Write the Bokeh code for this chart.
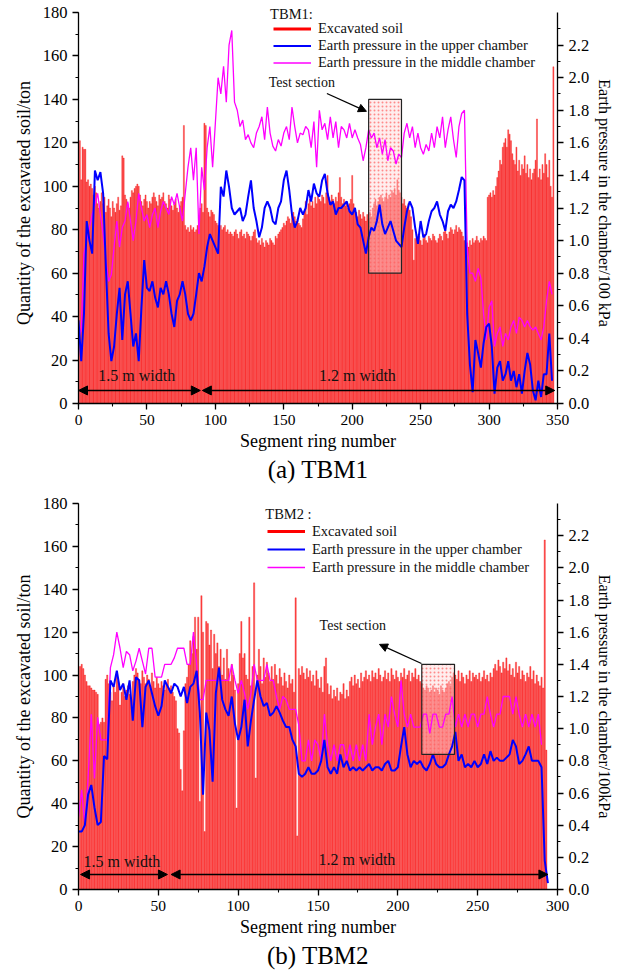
from bokeh.plotting import figure
from bokeh.models import (Range1d, LinearAxis, SingleIntervalTicker, Legend, LegendItem,
                          Arrow, NormalHead, Label, Title, PrintfTickFormatter)
from bokeh.layouts import column
from bokeh.embed import file_html
from bokeh.resources import INLINE

FONT = "Liberation Serif"

# ---------------- TBM1 data ----------------
# excavated soil (ton) per segment ring, rings 1..347
soil_tbm1 = [
    121, 103, 118, 117, 117, 102, 103, 100, 101, 99,
    96, 100, 97, 92, 90, 93, 97, 92, 95, 88,
    91, 94, 90, 86, 93, 90, 88, 92, 95, 89,
    91, 114, 113, 96, 94, 92, 90, 95, 98, 97,
    99, 100, 101, 100, 96, 93, 91, 94, 96, 93,
    90, 93, 92, 95, 97, 95, 93, 91, 96, 94,
    95, 97, 93, 92, 90, 96, 94, 91, 89, 92,
    94, 90, 88, 91, 93, 95, 128, 82, 80, 81,
    79, 82, 80, 81, 79, 80, 82, 86, 90, 92,
    88, 129, 128, 90, 88, 86, 89, 88, 87, 84,
    83, 82, 81, 82, 80, 81, 82, 79, 80, 78,
    79, 78, 77, 79, 80, 78, 76, 79, 80, 77,
    78, 76, 79, 78, 77, 75, 77, 79, 80, 76,
    74, 75, 73, 76, 74, 72, 75, 74, 73, 76,
    75, 74, 73, 77, 76, 78, 79, 80, 81, 83,
    82, 84, 86, 85, 83, 87, 88, 86, 84, 85,
    83, 82, 81, 85, 88, 93, 87, 92, 94, 91,
    93, 90, 95, 92, 96, 94, 93, 96, 95, 92,
    97, 105, 95, 93, 96, 94, 92, 95, 93, 97,
    104, 95, 92, 94, 91, 93, 90, 92, 94, 105,
    92, 90, 88, 86, 89, 87, 85, 88, 86, 84,
    87, 85, 88, 86, 90, 92, 94, 91, 93, 95,
    96, 94, 93, 95, 97, 94, 96, 95, 98, 97,
    99, 96, 103, 98, 97, 95, 92, 94, 91, 90,
    92, 89, 86, 80, 66, 76, 78, 74, 77, 75,
    73, 76, 78, 75, 74, 77, 76, 75, 78, 77,
    75, 74, 76, 78, 77, 75, 79, 80, 78, 76,
    79, 81, 80, 78, 80, 82, 79, 81, 80, 79,
    77, 75, 73, 74, 72, 75, 73, 76, 74, 75,
    77, 75, 74, 76, 75, 77, 76, 75, 95, 96,
    97, 95, 98, 96, 100, 104, 107, 112, 110, 118,
    120, 122, 118, 126, 124, 121, 115, 112, 110, 118,
    107, 112, 105, 110, 108, 114, 106, 110, 104, 108,
    103, 106, 108, 112, 131, 104, 108, 103, 110, 106,
    115, 110, 104, 112, 100, 95, 155,
]
# earth pressure (100 kPa), sampled every 2 rings from ring 0
upper_tbm1 = [
    0.51, 0.26, 0.55, 1.12, 1.00, 0.92, 1.43, 1.37, 1.42, 1.29,
    0.84, 0.43, 0.26, 0.35, 0.55, 0.71, 0.39, 0.67, 0.75, 0.55,
    0.35, 0.43, 0.26, 0.59, 0.88, 0.71, 0.69, 0.75, 0.65, 0.59,
    0.71, 0.67, 0.75, 0.67, 0.55, 0.47, 0.63, 0.67, 0.75, 0.67,
    0.55, 0.51, 0.55, 0.67, 0.80, 0.75, 0.84, 0.96, 1.04, 1.00,
    0.96, 0.92, 1.33, 1.27, 1.43, 1.33, 1.20, 1.16, 1.18, 1.20,
    1.12, 1.16, 1.27, 1.37, 1.20, 1.12, 1.02, 1.08, 1.20, 1.24,
    1.20, 1.12, 1.10, 1.20, 1.24, 1.37, 1.43, 1.31, 1.16, 1.08,
    1.12, 1.20, 1.16, 1.20, 1.31, 1.24, 1.35, 1.29, 1.27, 1.37,
    1.41, 1.29, 1.22, 1.24, 1.16, 1.20, 1.20, 1.22, 1.24, 1.18,
    1.16, 1.20, 1.10, 1.08, 1.00, 0.92, 1.02, 1.08, 1.06, 1.12,
    1.22, 1.10, 1.04, 1.08, 1.12, 1.06, 1.00, 0.98, 0.96, 1.08,
    1.18, 1.24, 1.20, 1.08, 0.98, 1.12, 1.02, 1.04, 1.12, 1.18,
    1.20, 1.24, 1.16, 1.12, 1.06, 1.18, 1.22, 1.20, 1.24, 1.31,
    1.39, 1.37, 0.55, 0.24, 0.07, 0.39, 0.31, 0.22, 0.37, 0.47,
    0.49, 0.35, 0.06, 0.22, 0.26, 0.14, 0.18, 0.26, 0.14, 0.20,
    0.10, 0.18, 0.06, 0.20, 0.31, 0.24, 0.08, 0.02, 0.14, 0.04,
    0.18, 0.18, 0.43, 0.14,
]
middle_tbm1 = [
    0.40, 0.45, 0.92, 1.00, 1.08, 1.16, 1.22, 1.29, 1.16, 1.04,
    0.88, 0.75, 0.79, 0.96, 1.12, 0.96, 1.08, 1.12, 1.24, 1.12,
    1.00, 1.12, 1.29, 1.20, 1.12, 1.16, 1.08, 1.16, 1.20, 1.08,
    1.18, 1.24, 1.20, 1.16, 1.27, 1.22, 1.29, 1.20, 1.12, 1.29,
    1.45, 1.57, 1.37, 1.57, 1.04, 1.45, 1.31, 1.57, 1.70, 1.45,
    1.72, 2.00, 1.90, 2.07, 1.85, 2.20, 2.29, 1.85, 1.80, 1.70,
    1.74, 1.62, 1.65, 1.60, 1.57, 1.66, 1.70, 1.76, 1.62, 1.82,
    1.66, 1.58, 1.55, 1.62, 1.58, 1.66, 1.70, 1.62, 1.82, 1.70,
    1.60, 1.66, 1.65, 1.70, 1.68, 1.57, 1.73, 1.45, 1.80, 1.68,
    1.72, 1.62, 1.76, 1.63, 1.73, 1.57, 1.70, 1.68, 1.63, 1.72,
    1.63, 1.68, 1.63, 1.59, 1.49, 1.57, 1.68, 1.63, 1.66, 1.57,
    1.63, 1.53, 1.62, 1.49, 1.57, 1.55, 1.47, 1.53, 1.51, 1.66,
    1.72, 1.63, 1.70, 1.57, 1.66, 1.57, 1.53, 1.59, 1.55, 1.66,
    1.57, 1.70, 1.63, 1.76, 1.57, 1.68, 1.76, 1.62, 1.51, 1.70,
    1.78, 1.80, 0.96, 0.80, 0.80, 0.75, 0.83, 0.77, 0.55, 0.39,
    0.59, 0.63, 0.35, 0.43, 0.47, 0.35, 0.43, 0.39, 0.47, 0.51,
    0.43, 0.53, 0.51, 0.47, 0.51, 0.47, 0.45, 0.47, 0.43, 0.39,
    0.47, 0.63, 0.75, 0.67,
]

# ---------------- TBM2 data ----------------
soil_tbm2 = [
    104, 105, 103, 100, 97, 95, 95, 94, 93, 93,
    92, 91, 77, 78, 80, 78, 98, 100, 96, 92,
    88, 95, 92, 99, 97, 86, 92, 96, 90, 93,
    95, 91, 89, 97, 100, 103, 101, 98, 96, 102,
    99, 96, 100, 98, 95, 101, 97, 94, 99, 96,
    94, 97, 95, 93, 96, 98, 94, 95, 92, 90,
    88, 75, 73, 56, 46, 74, 96, 99, 105, 116,
    110, 118, 127, 112, 127, 41, 137, 120, 27, 125,
    124, 114, 121, 103, 119, 110, 115, 104, 112, 100,
    108, 98, 112, 103, 97, 105, 100, 93, 38, 96,
    110, 125, 108, 110, 100, 98, 127, 95, 104, 143,
    52, 100, 112, 104, 96, 108, 99, 106, 101, 97,
    104, 98, 105, 100, 96, 103, 99, 95, 101, 97,
    94, 100, 96, 98, 92, 136, 25, 103, 100, 104,
    101, 98, 103, 99, 102, 97, 100, 95, 102, 98,
    94, 99, 92, 104, 108, 96, 91, 95, 89, 93,
    90, 94, 88, 92, 91, 96, 89, 93, 90, 97,
    99, 95, 100, 96, 98, 94, 101, 97, 99, 102,
    98, 100, 97, 102, 99, 101, 98, 103, 100, 97,
    99, 102, 98, 101, 97, 103, 100, 98, 102, 99,
    97, 101, 99, 103, 98, 100, 102, 97, 101, 99,
    103, 98, 100, 97, 96, 94, 93, 95, 94, 92,
    93, 95, 92, 94, 93, 91, 95, 93, 92, 94,
    96, 97, 95, 99, 101, 100, 98, 102, 97, 101,
    99, 96, 100, 98, 102, 97, 101, 99, 100, 98,
    101, 97, 99, 102, 98, 100, 97, 101, 99, 103,
    105, 102, 107, 104, 101, 106, 103, 108, 102, 105,
    100, 103, 99, 106, 101, 104, 98, 102, 100, 97,
    101, 99, 104, 98, 102, 96, 100, 97, 95, 99,
    94, 163, 65,
]
upper_tbm2 = [
    0.36, 0.36, 0.40, 0.59, 0.65, 0.51, 0.40, 0.42, 0.83, 0.81,
    1.30, 1.26, 1.36, 1.24, 1.28, 1.18, 1.30, 1.05, 1.32, 1.30,
    1.01, 1.26, 1.30, 1.22, 1.14, 1.08, 1.14, 1.30, 1.26, 1.22,
    1.28, 1.26, 1.20, 1.26, 1.16, 1.26, 1.28, 1.36, 1.10, 0.59,
    1.10, 0.99, 0.67, 1.22, 1.38, 1.18, 1.12, 1.08, 1.20, 1.03,
    0.93, 1.01, 1.18, 0.89, 1.05, 1.18, 1.30, 1.20, 1.14, 1.16,
    1.08, 1.10, 1.14, 1.10, 1.05, 1.01, 1.01, 0.93, 0.89, 0.72,
    0.70, 0.72, 0.76, 0.72, 0.72, 0.74, 0.80, 0.93, 0.76, 0.72,
    0.76, 0.72, 0.84, 0.76, 0.80, 0.74, 0.76, 0.74, 0.76, 0.74,
    0.76, 0.78, 0.74, 0.76, 0.76, 0.74, 0.78, 0.80, 0.74, 0.74,
    0.76, 0.89, 1.01, 0.84, 0.76, 0.80, 0.78, 0.80, 0.76, 0.74,
    0.78, 0.84, 0.78, 0.76, 0.76, 0.78, 0.84, 0.89, 0.98, 0.80,
    0.84, 0.76, 0.78, 0.76, 0.80, 0.76, 0.78, 0.84, 0.78, 0.86,
    0.80, 0.82, 0.80, 0.80, 0.82, 0.84, 0.93, 0.89, 0.78, 0.80,
    0.84, 0.89, 0.80, 0.80, 0.80, 0.76, 0.18, 0.04,
]
middle_tbm2 = [
    0.45, 0.62, 0.40, 0.69, 1.09, 0.69, 1.07, 0.93, 0.93, 0.93,
    1.38, 1.46, 1.60, 1.50, 1.38, 1.48, 1.46, 1.36, 1.42, 1.50,
    1.42, 1.34, 1.50, 1.50, 1.32, 1.32, 1.32, 1.40, 1.40, 1.40,
    1.44, 1.50, 1.50, 1.50, 1.40, 1.40, 1.60, 1.40, 1.18, 1.18,
    1.30, 1.30, 1.30, 1.30, 1.30, 1.30, 1.30, 1.30, 1.40, 1.30,
    1.22, 1.30, 1.22, 1.12, 1.22, 1.40, 1.30, 1.30, 1.30, 1.40,
    1.30, 1.30, 1.20, 1.12, 1.20, 1.18, 1.12, 1.12, 1.12, 1.02,
    0.80, 0.80, 0.93, 0.80, 0.93, 0.90, 0.80, 1.09, 0.90, 0.80,
    0.90, 0.80, 0.90, 0.90, 0.80, 0.90, 0.80, 0.90, 0.80, 0.90,
    0.80, 1.09, 0.90, 1.01, 1.09, 0.90, 1.09, 1.01, 1.20, 1.09,
    1.01, 1.30, 1.09, 1.01, 1.09, 1.01, 1.01, 1.01, 1.09, 1.09,
    0.97, 1.09, 1.09, 1.01, 1.01, 1.09, 1.09, 1.20, 1.01, 1.09,
    1.01, 1.09, 1.01, 1.09, 1.09, 1.01, 1.09, 1.09, 1.20, 1.09,
    1.01, 1.09, 1.09, 1.20, 1.20, 1.20, 1.09, 1.20, 1.09, 1.01,
    1.09, 1.01, 1.09, 1.01, 1.09, 0.90,
]

LINE_STEP = 2  # pressure readings are sampled every 2 rings
SOIL_MAX, P_MAX = 180, 2.4  # axis extents (ton, 100 kPa)

# annotation anchors (data units) and layout constants
TBM1_NOTES = dict(
    xmax=350, legend_title="TBM1:", ylabel_r="Earth pressure in the chamber/100 kPa",
    caption="(a) TBM1", rect=(212, 236, 60, 140),
    test_text=(139, 148), test_arrow=(181.5, 142.7, 210.4, 134.5),
    arrows_y=6, arrow_a=(0, 89), arrow_b=(90.5, 348),
    w15=(14.5, 13), w12=(175.7, 13),
    title_pos=(140, 179.5),
    legend_loc=(195, 332), legend_spacing=0, legend_lh=17,
    borders=(75, 63, 2, 83), head=10,
)
TBM2_NOTES = dict(
    xmax=300, legend_title="TBM2 :", ylabel_r="Earth pressure in the chamber/100kPa",
    caption="(b) TBM2", rect=(215, 235.5, 63, 105),
    test_text=(151, 123), test_arrow=(214.8, 105.4, 188.5, 114.3),
    arrows_y=7, arrow_a=(1.3, 55.7), arrow_b=(58, 294),
    w15=(3.1, 13), w12=(150.3, 14),
    title_pos=(117, 175.3),
    legend_loc=(189, 313), legend_spacing=0, legend_lh=18,
    borders=(78, 65, 17, 83), head=0,
)


def style_axis(ax, font_size):
    ax.axis_line_width = 1.3
    ax.major_tick_line_width = 1.3
    ax.minor_tick_line_width = 1.1
    ax.major_tick_in = 0
    ax.major_tick_out = 6
    ax.minor_tick_in = 0
    ax.minor_tick_out = 3
    ax.major_label_text_font = FONT
    ax.major_label_text_font_size = font_size
    ax.major_label_text_color = "black"
    ax.axis_label_text_font = FONT
    ax.axis_label_text_font_style = "normal"
    ax.axis_label_text_color = "black"


def build(soil, upper, middle, n):
    left, right, top, bottom = n["borders"]
    # frame height for the axis span is 391 px; "head" px of extra room above the axis top
    frame_h = 486 - top - bottom
    span_px = frame_h - n["head"]
    ymax = SOIL_MAX * frame_h / span_px
    pmax = P_MAX * frame_h / span_px
    p = figure(width=622, height=486, output_backend="svg", toolbar_location=None,
               x_range=Range1d(0, n["xmax"]), y_range=Range1d(0, ymax),
               min_border_left=left, min_border_right=right,
               min_border_top=top, min_border_bottom=bottom)
    p.outline_line_color = None
    p.xgrid.visible = False
    p.ygrid.visible = False
    p.background_fill_color = "white"
    p.extra_y_ranges = {"p": Range1d(0, pmax)}

    # axes
    p.xaxis.ticker = SingleIntervalTicker(interval=50, num_minor_ticks=2)
    p.yaxis.ticker = SingleIntervalTicker(interval=20, num_minor_ticks=2)
    p.yaxis.bounds = (0, SOIL_MAX)
    style_axis(p.xaxis[0], "15.5px")
    style_axis(p.yaxis[0], "16.5px")
    p.xaxis.axis_label = "Segment ring number"
    p.xaxis.axis_label_text_font_size = "18px"
    p.xaxis.axis_label_standoff = 3
    p.yaxis.axis_label = "Quantity of the excavated soil/ton"
    p.yaxis.axis_label_text_font_size = "18px"
    p.yaxis.axis_label_standoff = 6
    ra = LinearAxis(y_range_name="p", ticker=SingleIntervalTicker(interval=0.2, num_minor_ticks=2),
                    formatter=PrintfTickFormatter(format="%.1f"), bounds=(0, P_MAX))
    style_axis(ra, "16.5px")
    ra.axis_label = n["ylabel_r"]
    ra.axis_label_text_font_size = "16px"
    ra.axis_label_standoff = 4
    p.add_layout(ra, "right")

    # bars
    rings = list(range(1, len(soil) + 1))
    p.vbar(x=rings, top=soil, width=0.78, fill_color="#ff0000", fill_alpha=0.7,
           line_color="#f00000", line_alpha=0.9, line_width=0.35)

    # test section box (filled)
    x0, x1, y0, y1 = n["rect"]
    p.quad(left=[x0], right=[x1], bottom=[y0], top=[y1], fill_color="#ffd6d6", fill_alpha=0.45,
           hatch_pattern="dot", hatch_color="#ff6060", hatch_scale=4, hatch_alpha=0.7,
           line_color=None)

    # lines
    lx_u = [LINE_STEP * i for i in range(len(upper))]
    lx_m = [LINE_STEP * i for i in range(len(middle))]
    r_mid = p.line(lx_m, middle, y_range_name="p", line_color="#ff00ff", line_width=1.3)
    r_up = p.line(lx_u, upper, y_range_name="p", line_color="#0000ff", line_width=2)

    # box outline on top
    p.quad(left=[x0], right=[x1], bottom=[y0], top=[y1], fill_color=None,
           line_color="#222222", line_width=1.2)

    # legend (red sample line is kept outside the visible range)
    r_leg = p.line([-20, -10], [-20, -20], line_color="#ff0000", line_width=3)
    legend = Legend(items=[LegendItem(label="Excavated soil", renderers=[r_leg]),
                           LegendItem(label="Earth pressure in the upper chamber", renderers=[r_up]),
                           LegendItem(label="Earth pressure in the middle chamber", renderers=[r_mid])],
                    location=n["legend_loc"],
                    label_text_font=FONT, label_text_font_size="14.5px", label_text_color="#111111",
                    glyph_width=38, glyph_height=n["legend_lh"], label_height=n["legend_lh"],
                    label_standoff=7, spacing=n["legend_spacing"], padding=0, margin=0,
                    border_line_color=None, background_fill_alpha=0)
    p.add_layout(legend)
    tx0, ty0 = n["title_pos"]
    p.add_layout(Label(x=tx0, y=ty0, text=n["legend_title"], text_font=FONT, text_font_size="14.5px",
                       text_baseline="middle", text_color="#111111"))

    # width arrows and texts
    ay = n["arrows_y"]
    for xa, xb in (n["arrow_a"], n["arrow_b"]):
        p.add_layout(Arrow(start=NormalHead(size=9, fill_color="black", line_color="black"),
                           end=NormalHead(size=9, fill_color="black", line_color="black"),
                           x_start=xa, y_start=ay, x_end=xb, y_end=ay,
                           line_width=1.6, line_color="black"))
    for txt, (tx, ty) in (("1.5 m width", n["w15"]), ("1.2 m width", n["w12"])):
        p.add_layout(Label(x=tx, y=ty, text=txt, text_font=FONT, text_font_size="16px",
                           text_baseline="middle", text_color="#111111"))

    # test section annotation
    tx, ty = n["test_text"]
    p.add_layout(Label(x=tx, y=ty, text="Test section", text_font=FONT, text_font_size="14px",
                       text_baseline="middle", text_color="#111111"))
    sx, sy, ex, ey = n["test_arrow"]
    p.add_layout(Arrow(end=NormalHead(size=8, fill_color="black", line_color="black"),
                       x_start=sx, y_start=sy, x_end=ex, y_end=ey,
                       line_width=1.3, line_color="black"))

    p.add_layout(Title(text=n["caption"], align="center", text_font=FONT, text_font_size="25px",
                       text_font_style="normal", text_color="black", standoff=0), "below")
    return p


p1 = build(soil_tbm1, upper_tbm1, middle_tbm1, TBM1_NOTES)
p2 = build(soil_tbm2, upper_tbm2, middle_tbm2, TBM2_NOTES)
layout = column(p1, p2, spacing=0)
open("out.html", "w").write(file_html(layout, INLINE))
